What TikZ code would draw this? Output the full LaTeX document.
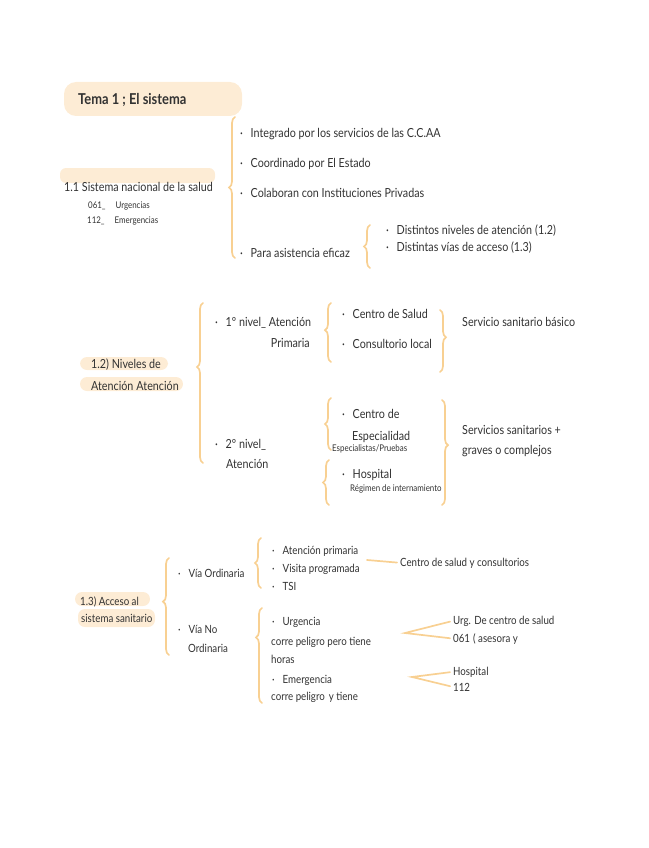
\documentclass[tikz,border=0pt]{standalone}
\usepackage{fontspec}
\newfontfamily\hand{Lato}[FakeStretch=0.86]
\usetikzlibrary{decorations.pathreplacing}
\definecolor{ink}{RGB}{50,50,50}
\definecolor{peach}{RGB}{248,208,146}
\definecolor{hl}{RGB}{253,236,213}
\newcommand{\bul}{\makebox[10.5pt][l]{·}}
\tikzset{
  t/.style={anchor=base west, inner sep=0pt, text=ink, font=\hand\fontsize{12.5}{14}\selectfont},
  tt/.style={t, font=\hand\fontsize{11.3}{13}\selectfont},
  tiny/.style={t, font=\hand\fontsize{9.2}{10}\selectfont},
  ttl/.style={t, font=\hand\bfseries\fontsize{15}{17}\selectfont},
  brc/.style={draw=peach, line width=1.7pt, line cap=round, decorate,
              decoration={brace, amplitude=6pt, aspect=#1}},
  brc/.default=0.5,
  ln/.style={draw=peach, line width=1.7pt, line cap=round},
}
\begin{document}
\begin{tikzpicture}[x=1pt,y=-1pt]
\useasboundingbox (0,0) rectangle (648,848);
% ---------- title ----------
\fill[hl, rounded corners=12pt] (64,82) rectangle (242,116);
\node[ttl] (title) at (78,105) {Tema 1 ; El sistema};
% ---------- 1.1 ----------
\fill[hl, rounded corners=6pt] (60,168) rectangle (215,183);
\node[t] (s11) at (64,191) {1.1 Sistema nacional de la salud};
\node[tiny] (n061) at (88,208) {061\_\hspace{10pt}Urgencias};
\node[tiny] (n112) at (87,223) {112\_\hspace{10pt}Emergencias};
\coordinate (b1t) at (235,117);
\coordinate (b1b) at (235,258);
\draw[brc] (b1b) -- (b1t);
\node[t] (a1) at (240,137) {\bul Integrado por los servicios de las C.C.AA};
\node[t] (a2) at (240,167) {\bul Coordinado por El Estado};
\node[t] (a3) at (240,197) {\bul Colaboran con Instituciones Privadas};
\node[t] (a4) at (240,257) {\bul Para asistencia eficaz};
\coordinate (b2t) at (370,225);
\coordinate (b2b) at (370,268);
\draw[brc] (b2b) -- (b2t);
\node[t] (d1) at (386,234) {\bul Distintos niveles de atención\hspace{3pt}(1.2)};
\node[t] (d2) at (386,251) {\bul Distintas vías de acceso (1.3)};
% ---------- 1.2 ----------
\fill[hl, rounded corners=7pt] (80,357) rectangle (168,370);
\fill[hl, rounded corners=7pt] (80,377) rectangle (183,391);
\node[t] (s12a) at (91,368) {1.2) Niveles de};
\node[t] (s12b) at (91,390) {Atención\hspace{3pt}Atención};
\coordinate (b3t) at (203,303);
\coordinate (b3b) at (203,463);
\draw[brc=0.6] (b3b) -- (b3t);
\node[t] (l1) at (215,326) {\bul 1º nivel\_\ Atención};
\node[t, anchor=base east] (l1b) at (310,347) {Primaria};
\node[t] (l2) at (215,448) {\bul 2º nivel\_};
\node[t] (l2b) at (226,468) {Atención};
\coordinate (b4t) at (331,303);
\coordinate (b4b) at (331,362);
\draw[brc=0.54] (b4b) -- (b4t);
\node[t] (cs) at (342,318) {\bul Centro de Salud};
\node[t] (cl) at (342,348) {\bul Consultorio local};
\coordinate (b5t) at (440,310);
\coordinate (b5b) at (440,372);
\draw[brc=0.44] (b5t) -- (b5b);
\node[t] (ssb) at (462,326) {Servicio sanitario básico};
\coordinate (b6t) at (331,398);
\coordinate (b6b) at (331,450);
\draw[brc] (b6b) -- (b6t);
\node[t] (ce) at (342,418) {\bul Centro de};
\node[t] (ce2) at (352,440) {Especialidad};
\node[tiny] (ep) at (332,451) {Especialistas/Pruebas};
\coordinate (b7t) at (329,460);
\coordinate (b7b) at (329,505);
\draw[brc] (b7b) -- (b7t);
\node[t] (ho) at (342,478) {\bul Hospital};
\node[tiny] (ri) at (350,491) {Régimen de internamiento};
\coordinate (b8t) at (442,400);
\coordinate (b8b) at (442,505);
\draw[brc=0.43] (b8t) -- (b8b);
\node[t] (sg1) at (462,434) {Servicios sanitarios +};
\node[t] (sg2) at (462,454) {graves o complejos};
% ---------- 1.3 ----------
\fill[hl, rounded corners=7pt] (75,592) rectangle (150,606);
\fill[hl, rounded corners=7pt] (78,609) rectangle (155,627);
\node[tt] (s13a) at (80,605) {1.3) Acceso al};
\node[tt] (s13b) at (81,622) {sistema sanitario};
\coordinate (b9t) at (169,558);
\coordinate (b9b) at (169,655);
\draw[brc=0.55] (b9b) -- (b9t);
\node[tt] (vo) at (178,577) {\bul Vía Ordinaria};
\node[tt] (vn) at (178,633) {\bul Vía No};
\node[tt] (vn2) at (188,652) {Ordinaria};
\coordinate (b10t) at (261,538);
\coordinate (b10b) at (261,588);
\draw[brc] (b10b) -- (b10t);
\node[tt] (ap) at (272,554) {\bul Atención primaria};
\node[tt] (vp) at (272,572) {\bul Visita programada};
\node[tt] (tsi) at (272,590) {\bul TSI};
\coordinate (ln1) at (367,560);
\node[tt] (csc) at (400,566) {Centro de salud y consultorios};
\draw[ln, shorten >=3pt] (ln1) -- (csc.west);
\coordinate (b11t) at (262,608);
\coordinate (b11b) at (262,703);
\draw[brc=0.69] (b11b) -- (b11t);
\node[tt] (ur) at (272,625) {\bul Urgencia};
\node[tt] (ur2) at (271,645) {corre peligro pero tiene};
\node[tt] (ur3) at (271,663) {horas};
\node[tt] (em) at (272,683) {\bul Emergencia};
\node[tt] (em2) at (271,700) {corre peligro\hspace{4pt}y tiene};
\coordinate (apx1) at (405,633);
\node[tt] (ucs) at (453,624) {Urg. De centro de salud};
\node[tt] (o61) at (453,642) {061\hspace{3pt}( asesora y};
\draw[ln, shorten <=3pt, shorten >=3pt] (ucs.west) -- (apx1) -- (o61.west);
\coordinate (apx2) at (412,677);
\node[tt] (hos) at (453,675) {Hospital};
\node[tt] (n112b) at (453,691) {112};
\draw[ln, shorten <=3pt, shorten >=3pt] (hos.west) -- (apx2) -- (n112b.west);
\end{tikzpicture}
\end{document}
